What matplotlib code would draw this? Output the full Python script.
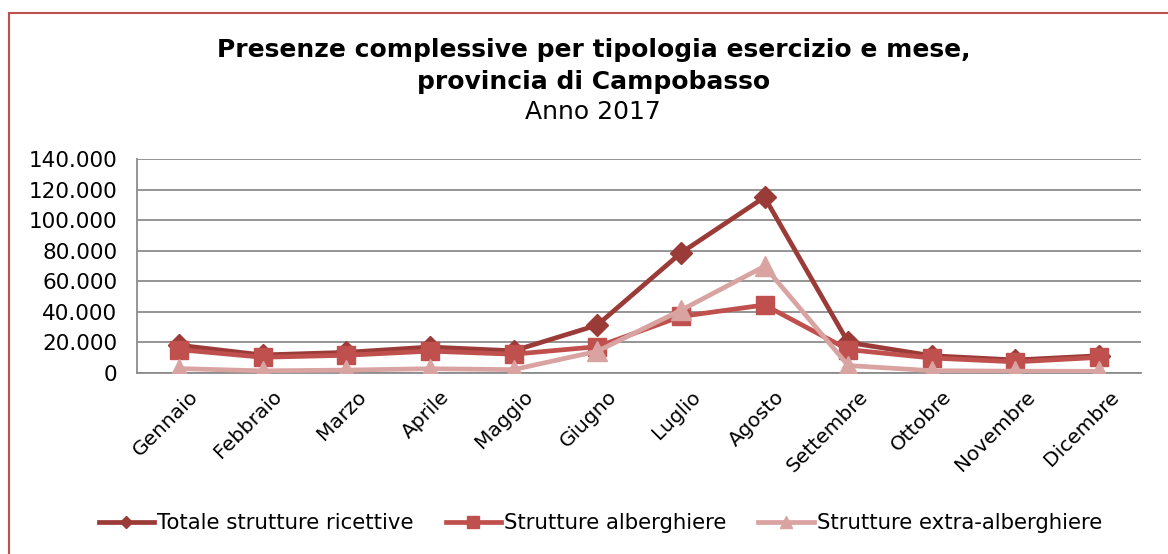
import numpy as np
import matplotlib.pyplot as plt
import matplotlib.transforms as mtransforms
from matplotlib.patches import Rectangle
from matplotlib.ticker import FuncFormatter

mesi = ["Gennaio", "Febbraio", "Marzo", "Aprile", "Maggio", "Giugno",
        "Luglio", "Agosto", "Settembre", "Ottobre", "Novembre", "Dicembre"]
totale = [18200, 11800, 13500, 17000, 14500, 31300,
          78500, 115000, 20000, 11300, 8500, 11300]
alberghiere = [15300, 10300, 11600, 14300, 12300, 17200,
               37000, 44500, 15300, 9800, 7300, 10200]
extra = [2900, 1400, 1900, 2800, 2200, 14200,
         41000, 69800, 4900, 1500, 1200, 1100]

col_tot = "#9B3B38"
col_alb = "#C0504D"
col_ext = "#D9A3A1"

fig = plt.figure(figsize=(11.68, 5.54), dpi=100)
ax = fig.add_axes([137/1168, 1-373/554, (1141-137)/1168, (373-159)/554])

x = np.arange(len(mesi))
ax.plot(x, totale, color=col_tot, lw=3.4, marker="D", ms=11, label="Totale strutture ricettive", zorder=3)
ax.plot(x, alberghiere, color=col_alb, lw=3.4, marker="s", ms=13.5, label="Strutture alberghiere", zorder=4)
ax.plot(x, extra, color=col_ext, lw=3.4, marker="^", ms=14, label="Strutture extra-alberghiere", zorder=5)

ax.set_xlim(-0.5, len(mesi)-0.5)
ax.set_ylim(0, 140000)
ax.set_yticks(np.arange(0, 140001, 20000))
ax.yaxis.set_major_formatter(FuncFormatter(lambda v, p: f"{int(v):,}".replace(",", ".")))
ax.set_xticks(x)
ax.set_xticklabels(mesi, rotation=45, ha="right", rotation_mode="anchor")
ax.tick_params(axis="y", labelsize=15.5, length=0, pad=14)
ax.tick_params(axis="x", labelsize=14.5, length=0, pad=10)
# shift the rotated month labels a little to the right, like the original
shift = mtransforms.ScaledTranslation(10/100, 0, fig.dpi_scale_trans)
for lbl in ax.get_xticklabels():
    lbl.set_transform(lbl.get_transform() + shift)
ax.grid(axis="y", color="#8C8C8C", lw=1.3)
ax.set_axisbelow(True)
for s in ["top", "right"]:
    ax.spines[s].set_visible(False)
ax.spines["left"].set_color("#8C8C8C")
ax.spines["bottom"].set_color("#8C8C8C")
ax.spines["left"].set_linewidth(1.3)
ax.spines["bottom"].set_linewidth(1.3)

fig.text(0.508, 1-50/554, "Presenze complessive per tipologia esercizio e mese,",
         ha="center", va="center", fontsize=18, fontweight="bold")
fig.text(0.508, 1-82/554, "provincia di Campobasso",
         ha="center", va="center", fontsize=18, fontweight="bold")
fig.text(0.508, 1-112/554, "Anno 2017", ha="center", va="center", fontsize=18)

leg = fig.legend(loc="center", bbox_to_anchor=(0.514, 1-523/554), ncol=3, frameon=False,
                 fontsize=15.3, handlelength=2.6, columnspacing=1.5, handletextpad=0.15,
                 markerscale=0.6)

# chart border (only top and left visible in the crop)
fig.patches.append(Rectangle((9/1168, -0.1), 1.2, (1-13/554)+0.1, transform=fig.transFigure,
                             fill=False, edgecolor=col_alb, lw=1.5))

fig.savefig("out.png", dpi=100)
